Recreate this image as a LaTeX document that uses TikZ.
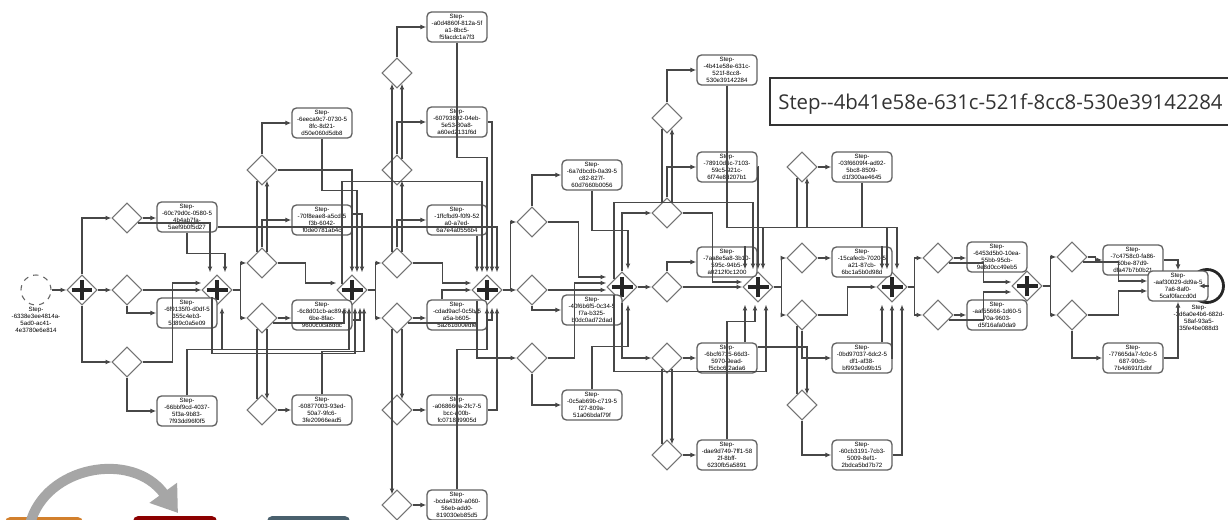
\documentclass[tikz,border=0pt]{standalone}
\usepackage{fontspec}
\setmainfont{Liberation Sans}
\newfontfamily\tipfont{Open Sans}
\usetikzlibrary{shapes.geometric,arrows.meta,calc}
\newcommand{\tasktext}{\fontsize{3.5}{4.0}\selectfont}
\tikzset{
  task/.style={draw=black!62, line width=0.75pt, rounded corners=2.5pt, fill=white, minimum width=1.2cm, minimum height=0.6cm, inner sep=0pt, align=center, font=\tasktext},
  xgate/.style={draw=black!55, line width=0.6pt, diamond, fill=white, minimum width=0.6cm, minimum height=0.6cm, inner sep=0pt},
  pgate/.style={xgate, path picture={
    \draw[line width=2.1pt, black!85] ([xshift=-0.21cm]path picture bounding box.center) -- ([xshift=0.21cm]path picture bounding box.center);
    \draw[line width=2.1pt, black!85] ([yshift=-0.21cm]path picture bounding box.center) -- ([yshift=0.21cm]path picture bounding box.center);}},
  seqflow/.style={draw=black!72, line width=0.7pt, -{Latex[length=3.4pt,width=2.8pt]}},
  wire/.style={draw=black!72, line width=0.7pt},
  lbl/.style={font=\tasktext, align=center, anchor=north, inner sep=0pt}
}
\begin{document}
\begin{tikzpicture}[x=0.02cm,y=-0.02cm]
\useasboundingbox (0,0) rectangle (1228,520);
\fill[white] (0,0) rectangle (1228,520);
\clip (0,0) rectangle (1228,520);

\node[draw=black!60, line width=0.6pt, dashed, circle, minimum size=0.6cm, inner sep=0pt] (start) at (36,290) {};
\node[lbl] (startlbl) at (36,307) {Step-\\-6338e3ee4814a-\\5ad0-ac41-\\4e3780e6e814};
\node[draw=black!85, line width=1.6pt, circle, minimum size=0.66cm, inner sep=0pt] (endev) at (1207,286) {};
\node[lbl] (endlbl) at (1199,305) {Step-\\-3d6a0e4b6-682d-\\58af-93a5-\\35fe4be088d3};

\node[pgate] (p1) at (82,290) {};
\node[pgate] (p2) at (217,290) {};
\node[pgate] (p3) at (352,290) {};
\node[pgate] (p4) at (487,290) {};
\node[pgate] (p5) at (622,287) {};
\node[pgate] (p6) at (758,287) {};
\node[pgate] (p7) at (892,287) {};
\node[pgate] (p8) at (1027,286) {};

\node[xgate] (d1) at (127,218) {};
\node[xgate] (d2) at (127,290) {};
\node[xgate] (d3) at (127,362) {};
\node[xgate] (e1) at (262,170) {};
\node[xgate] (e2) at (262,263) {};
\node[xgate] (e3) at (262,318) {};
\node[xgate] (e4) at (262,410) {};
\node[xgate] (f1) at (397,73) {};
\node[xgate] (f2) at (397,170) {};
\node[xgate] (f3) at (397,263) {};
\node[xgate] (f4) at (397,318) {};
\node[xgate] (f5) at (397,410) {};
\node[xgate] (f6) at (397,505) {};
\node[xgate] (g1) at (532,222) {};
\node[xgate] (g2) at (532,290) {};
\node[xgate] (g3) at (532,358) {};
\node[xgate] (h1) at (667,118) {};
\node[xgate] (h2) at (667,213) {};
\node[xgate] (h3) at (667,287) {};
\node[xgate] (h4) at (667,358) {};
\node[xgate] (h5) at (667,455) {};
\node[xgate] (k1) at (802,167) {};
\node[xgate] (k2) at (802,258) {};
\node[xgate] (k3) at (802,315) {};
\node[xgate] (k4) at (802,405) {};
\node[xgate] (l1) at (938,258) {};
\node[xgate] (l2) at (938,315) {};
\node[xgate] (m1) at (1072,257) {};
\node[xgate] (m2) at (1072,315) {};

\node[task] (t1) at (187,217) {Step-\\-60c79d0c-0580-5\\4b4ab7fa-\\5aef9b0f5d27};
\node[task] (t2) at (187,313) {Step-\\-6f9135f0-d0df-5\\355c4eb3-\\5d89c0a5e09};
\node[task] (t3) at (187,411) {Step-\\-66bbf9cd-4037-\\5f3a-9b83-\\7f93dd96f0f5};
\node[task] (t4) at (322,123) {Step-\\-6eeca9c7-0730-5\\8fc-8d21-\\d50e060d5db8};
\node[task] (t5) at (322,220) {Step-\\-70f8eae8-a5cd-5\\f3b-6042-\\f0de0781ab4c};
\node[task] (t6) at (322,315) {Step-\\-6c8d01cb-ac89-5\\6be-8fac-\\9600c0ca8ddc};
\node[task] (t7) at (322,410) {Step-\\-60877003-93ed-\\50a7-9fc6-\\3fe20966ead5};
\node[task] (t8) at (457,27) {Step-\\-a0d4860f-812a-5f\\a1-8bc5-\\f5facdc1a7f3};
\node[task] (t9) at (457,122) {Step-\\-60793802-04eb-\\5e53-80a8-\\a60ed2131f6d};
\node[task] (t10) at (457,220) {Step-\\-1ffcfbd9-f0f9-52\\a0-a7ed-\\6a7e4a0556b4};
\node[task] (t11) at (457,315) {Step-\\-cdad9acf-0c5b-5\\a5a-b605-\\5a261d00edfe};
\node[task] (t12) at (457,410) {Step-\\-a068660a-2fc7-5\\bcc-a00b-\\fc0718d9905d};
\node[task] (t13) at (457,505) {Step-\\-bcda43b9-a060-\\56eb-add0-\\819030eb85d5};
\node[task] (t14) at (592,175) {Step-\\-6a7dbcdb-0a39-5\\c82-827f-\\60d7660b0056};
\node[task] (t15) at (592,310) {Step-\\-40f6b6f5-0c34-5\\f7a-b325-\\b0dc0ad72dad};
\node[task] (t16) at (592,405) {Step-\\-0c5ab69b-c719-5\\f27-809a-\\51a06bdaf79f};
\node[task] (t17) at (727,70) {Step-\\-4b41e58e-631c-\\521f-8cc8-\\530e39142284};
\node[task] (t18) at (727,167) {Step-\\-78910d6c-7103-\\59c5-921c-\\6f74e8d207b1};
\node[task] (t19) at (727,262) {Step-\\-7aa8e5a8-3b10-\\595c-94b5-\\a0212f0c1200};
\node[task] (t20) at (727,358) {Step-\\-6bcf6715-66d3-\\5970-9ead-\\f5cbc6f2ada6};
\node[task] (t21) at (727,455) {Step-\\-dae9d749-7ff1-58\\2f-8bff-\\6230fb5a5891};
\node[task] (t22) at (862,167) {Step-\\-03f6609f4-ad92-\\5bc8-8509-\\d1f300ae4645};
\node[task] (t23) at (862,262) {Step-\\-15cafecb-7020-5\\a21-87cb-\\6bc1a5b0d98d};
\node[task] (t24) at (862,358) {Step-\\-0bd97037-6dc2-5\\df1-af38-\\bf993e0d9b15};
\node[task] (t25) at (862,455) {Step-\\-60cb3191-7cb3-\\5009-8ef1-\\2bdca5bd7b72};
\node[task] (t26) at (997,257) {Step-\\-6453d5b0-10ea-\\55bb-95cb-\\9e8d0cc49eb5};
\node[task] (t27) at (997,315) {Step-\\-aaf55666-1d60-5\\70a-9603-\\d5f16afa0da9};
\node[task] (t28) at (1133,260) {Step-\\-7c4758c0-fa86-\\50be-87d9-\\dfa47b7b0b21};
\node[task] (t29) at (1133,358) {Step-\\-77665da7-fc0c-5\\687-90cb-\\7b4d691f1dbf};
\node[task] (t30) at (1178,286) {Step-\\-aaf30029-dd9a-5\\7a6-8af0-\\5caf0faccd0d};

\draw[seqflow] (start) -- (p1);
\draw[seqflow] (p1.north) |- (d1);
\draw[seqflow] (p1) -- (d2);
\draw[seqflow] (p1.south) |- (d3);
\draw[seqflow] (d1.east) -- (d1.east -| t1.west);
\draw[seqflow] ($(d1.east)+(-5,5)$) -| ($(p2.north)+(-7,-2)$);
\draw[seqflow] (t1.south) -- ++(0,21) -| ($(p2.north)+(8,-2)$);
\draw[seqflow] ($(t1.east)+(0,10)$) -| ($(p4.north)+(10,-2)$);
\draw[seqflow] (d2) -- (p2);
\draw[seqflow] (d2.south) |- (t2.west);
\draw[seqflow] (d3.east) -- ++(30,0) |- ($(p2.west)+(0,-7)$);
\draw[seqflow] (d3.south) |- (t3.west);
\draw[seqflow] (t3.north) -- ++(0,-46) -| ($(p2.south)+(5,2)$);
\draw[seqflow] ($(t3.north)+(0,-46)$) -| ($(p3.south)+(-3,2)$);
\draw[seqflow] ($(t2.north)+(25,0)$) -- ++(0,56) -| ($(p3.south)+(3,2)$);

\draw[seqflow] (p2.east) -- ++(8,0) |- (e2.west);
\draw[seqflow] (p2.east) -- ++(8,0) |- (e3.west);
\draw[seqflow] (e2.north) |- (t5.west);
\draw[seqflow] ($(e2.north)+(5,5)$) -- ($(e1.south)+(5,-5)$);
\draw[wire] ($(e2.north)+(-5,5)$) -- ($(e1.south)+(-5,-5)$);
\draw[seqflow] (e1.north) |- (t4.west);
\draw[seqflow] (e2.east) -- ++(28,0) |- ($(p3.west)+(0,-7)$);
\draw[seqflow] (e3.east) -- (e3.east -| t6.west);
\draw[seqflow] ($(e3.east)+(-5,5)$) -| ($(p3.south)+(-8,2)$);
\draw[seqflow] ($(e3.south)+(5,-5)$) -- ($(e4.north)+(5,5)$);
\draw[wire] ($(e3.south)+(-5,-5)$) -- ($(e4.north)+(-5,5)$);
\draw[seqflow] (e4) -- (t7);
\draw[seqflow] (t4.south) -- ++(0,52) -| ($(p3.north)+(5,-2)$);
\draw[seqflow] ($(t5.east)+(0,-6)$) -| ($(p3.north)+(10,-2)$);
\draw[seqflow] (e1.east) -| ($(p3.north)+(0,-2)$);
\draw[seqflow] ($(t6.east)+(0,5)$) -| ($(p3.south)+(8,2)$);
\draw[seqflow] (t7.north) -- ++(0,-43) -| ($(p3.south)+(12,2)$);
\draw[seqflow] ($(p3.north)+(-10,10)$) -- ++(0,-103) -| ($(p4.north)+(-5,-2)$);

\draw[seqflow] (p3.east) -- ++(8,0) |- (f3.west);
\draw[seqflow] (p3.east) -- ++(8,0) |- (f4.west);
\draw[seqflow] (f3.north) |- (t10.west);
\draw[seqflow] ($(f3.north)+(5,5)$) -- ($(f2.south)+(5,-5)$);
\draw[seqflow] ($(f3.north)+(-5,5)$) -- ($(f1.south)+(-5,-5)$);
\draw[seqflow] (f2.north) |- (t9.west);
\draw[seqflow] ($(f2.north)+(5,5)$) -- ($(f1.south)+(5,-5)$);
\draw[seqflow] (f1.north) |- (t8.west);
\draw[seqflow] (f3.east) -- ++(30,0) |- ($(p4.west)+(0,-7)$);
\draw[seqflow] (f4.east) -- (f4.east -| t11.west);
\draw[seqflow] ($(f4.east)+(-5,5)$) -| ($(p4.south)+(-10,2)$);
\draw[seqflow] ($(f4.south)+(5,-5)$) -- ($(f5.north)+(5,5)$);
\draw[seqflow] ($(f4.south)+(-5,-5)$) -- ($(f6.north)+(-5,5)$);
\draw[seqflow] (f5) -- (t12);
\draw[seqflow] (f6) -- (t13);
\draw[seqflow] (t8.south) -- ++(0,115) -| ($(p4.north)+(0,-2)$);
\draw[seqflow] (t9.east) -| ($(p4.north)+(5,-2)$);
\draw[seqflow] ($(t10.south)+(20,0)$) -- ($(p4.north)+(-10,-2)$);
\draw[seqflow] ($(t11.north)+(-15,0)$) |- (p4.west);
\draw[seqflow] ($(t11.east)+(0,5)$) -| ($(p4.south)+(5,2)$);
\draw[seqflow] (t12.east) -| ($(p4.south)+(10,2)$);
\draw[seqflow] (t13.north) -- ++(0,-140) -| ($(p4.south)+(0,2)$);

\draw[seqflow] (p4) -- (g2);
\draw[seqflow] (p4.east) -- ++(8,0) |- (g1.west);
\draw[seqflow] ($(p4.south)+(-10,-5)$) |- (g3.west);
\draw[seqflow] (g1.north) |- (t14.west);
\draw[seqflow] (g1.east) -- ++(31,0) |- ($(p5.west)+(0,-10)$);
\draw[seqflow] (g2.south) |- (t15.west);
\draw[seqflow] (g2.east) -- (g2.east -| p5.west);
\draw[seqflow] (g3.south) |- (t16.west);
\draw[seqflow] (g3.east) -- ++(27,0) |- ($(p5.west)+(0,-4)$);
\draw[seqflow] (t14.south) -- ++(0,40) -| ($(p5.north)+(6,-2)$);
\draw[seqflow] (t16.north) -- ++(0,-43) -| ($(p5.south)+(6,2)$);

\draw[seqflow] (p5) -- (h3);
\draw[seqflow] (p5.north) |- (h2.west);
\draw[seqflow] (p5.south) |- (h4.west);
\draw[seqflow] ($(p5.north)+(-8,8)$) -- ++(0,-77) -| ($(p6.north)+(-5,-2)$);
\draw[seqflow] ($(p5.south)+(-8,-8)$) -- ++(0,77) -| ($(p6.south)+(8,2)$);

\draw[seqflow] ($(h2.north)+(5,5)$) -- ($(h1.south)+(5,-5)$);
\draw[wire] ($(h2.north)+(-5,5)$) -- ($(h1.south)+(-5,-5)$);
\draw[seqflow] (h1.north) |- (t17.west);
\draw[seqflow] (h2.north) |- (t18.west);
\draw[seqflow] (h2.east) -- ++(30,0) |- ($(p6.west)+(0,-5)$);
\draw[seqflow] (h3.north) |- (t19.west);
\draw[seqflow] (h3) -- (p6);
\draw[seqflow] (h4.east) -- (h4.east -| t20.west);
\draw[seqflow] ($(h4.south)+(5,-5)$) -- ($(h5.north)+(5,5)$);
\draw[wire] ($(h4.south)+(-5,-5)$) -- ($(h5.north)+(-5,5)$);
\draw[seqflow] (h5) -- (t21);
\draw[seqflow] (t17.south) -- ++(0,142) -| ($(p6.north)+(5,-2)$);
\draw[seqflow] (t18.east) -| ($(p6.north)+(0,-2)$);
\draw[seqflow] ($(t19.north)+(18,0)$) -- ($(p6.north)+(-13,-2)$);
\draw[seqflow] ($(t20.north)+(18,0)$) -- ($(p6.south)+(-13,2)$);
\draw[seqflow] (t21.north) -- ++(0,-118) -| ($(p6.south)+(-3,2)$);

\draw[seqflow] (p6.east) -- ++(8,0) |- (k2.west);
\draw[seqflow] (p6.east) -- ++(8,0) |- (k3.west);
\draw[seqflow] (k2.east) -- (k2.east -| t23.west);
\draw[seqflow] (t17.south) -- ++(0,142) -| ($(k1.south)+(5,-5)$);
\draw[wire] ($(k1.south)+(-5,-5)$) -- ++(0,50);
\draw[seqflow] (k1) -- (t22);
\draw[seqflow] (t17.south) -- ++(0,142) -| ($(p7.north)+(5,-2)$);
\draw[seqflow] (t22.south) -- ++(0,45) -| ($(p7.north)+(-5,-2)$);
\draw[seqflow] ($(t23.north)+(20,0)$) -- ($(p7.north)+(-10,-2)$);
\draw[seqflow] (k3.south) |- (t24.west);
\draw[seqflow] (k3.east) -- ++(30,0) |- (p7.west);
\draw[seqflow] ($(t20.east)+(0,-11)$) -| ($(k4.north)+(5,5)$);
\draw[wire] ($(k3.south)+(-5,-5)$) -- ($(k4.north)+(-5,5)$);
\draw[seqflow] (k4.south) |- (t25.west);
\draw[seqflow] ($(t24.north)+(20,0)$) -- ($(p7.south)+(-10,2)$);
\draw[seqflow] (t24.east) -| ($(p7.south)+(0,2)$);
\draw[seqflow] (t25.east) -| ($(p7.south)+(10,2)$);

\draw[seqflow] (p7.east) -- ++(7,0) |- (l1.west);
\draw[seqflow] (p7.east) -- ++(7,0) |- (l2.west);
\draw[seqflow] (l1.east) -- (l1.east -| t26.west);
\draw[seqflow] ($(l1.east)+(-5,5)$) -- ++(35,0) |- ($(p8.west)+(0,-4)$);
\draw[seqflow] (l2.east) -- (l2.east -| t27.west);
\draw[seqflow] ($(l2.east)+(-5,5)$) -- ++(35,0) |- ($(p8.west)+(0,6)$);

\draw[seqflow] (p8.east) -- ++(8,0) |- (m1.west);
\draw[seqflow] (p8.east) -- ++(8,0) |- (m2.west);
\draw[seqflow] (m1.east) -- ++(8,0) |- (t28.west);
\draw[seqflow] ($(m1.east)+(-5,5)$) -- ++(36,0) |- ($(t30.west)+(0,-5)$);
\draw[seqflow] (m2.east) -- ++(31,0) |- ($(t30.west)+(0,5)$);
\draw[seqflow] (m2.south) |- (t29.west);
\draw[seqflow] (t28.east) -| (t30.north);
\draw[seqflow] (t29.east) -| (t30.south);
\draw[seqflow] (t30.east) -- ++(-10,0);

\draw[black!80, fill=white, line width=0.6pt] (770,78) rectangle (1240,125);
\node[anchor=base west, inner sep=0pt, text=black!80, font=\tipfont\fontsize{11.6}{14}\selectfont] (tip) at (778,110) {Step--4b41e58e-631c-521f-8cc8-530e39142284};

\fill[rounded corners=3pt, fill=brown!70!orange] (5,517) rectangle (83,540);
\fill[rounded corners=3pt, fill=red!55!black] (133,516) rectangle (217,540);
\fill[rounded corners=3pt, fill=cyan!35!black] (267,516) rectangle (350,540);
\draw[line width=0.2cm, black!35, -{Triangle[length=0.5cm,width=0.65cm]}] (30,524) .. controls (45,466) and (132,450) .. (178,513);
\end{tikzpicture}
\end{document}
